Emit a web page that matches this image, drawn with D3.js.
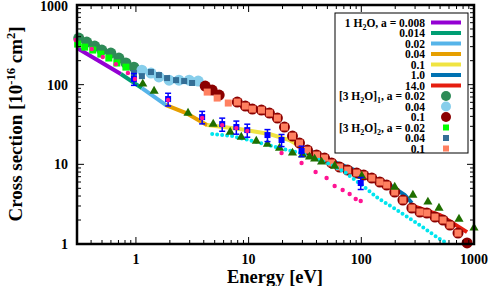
<!DOCTYPE html>
<html>
<head>
<meta charset="utf-8">
<script src="https://cdn.jsdelivr.net/npm/d3@7"></script>
<style>
  body { margin: 0; background: #fff; }
  text { font-family: "Liberation Serif", "DejaVu Serif", serif; font-weight: bold; }
</style>
</head>
<body>
<div id="chart"></div>
<script>
// ---- data (energy in eV, cross section in 1e-16 cm^2) ----
const h2o008E = [0.3, 0.47, 0.735], h2o008S = [288, 198, 136];
const h2o014E = [0.735, 1.13], h2o014S = [136, 90.6];
const h2o02E = [1.13, 1.85], h2o02S = [90.6, 55.5];
const h2o04E = [1.85, 2.79, 4.3], h2o04S = [55.5, 44, 31];
const h2o1E = [4.3, 8.26, 15.3, 23.0, 28.3], h2o1S = [31.1, 27.7, 24.0, 20.2, 17.0];
const h2o10E = [28.3, 52.3, 96.8, 179, 243, 281], h2o10S = [17.0, 11.3, 8.0, 5.5, 4.12, 3.27];
const h2o140E = [270, 499, 868], h2o140S = [3.09, 2.31, 1.41];

const c1a02E = [0.311, 0.366, 0.431, 0.498, 0.599, 0.706, 0.815, 0.96];
const c1a02S = [384, 342, 305, 272, 249, 216, 187, 166];
const c1a04E = [1.13, 1.36, 1.60, 1.97, 2.41, 2.97, 3.57];
const c1a04S = [152, 140, 125, 114, 114, 114, 111];
const c1a1E = [4.12, 4.75, 5.48, 7.93, 9.35, 10.8, 13.0, 15.3, 18.0, 20.8, 24.5, 28.3, 33.3, 40.1, 47.2, 54.5, 64.2, 75.7, 91.0, 105, 124, 146, 168, 198, 234, 281, 331, 382, 451, 531, 612, 721, 868];
const c1a1S = [96, 85.5, 74.1, 60.5, 53.9, 49.4, 48.0, 44.0, 38.1, 29.4, 22.6, 18.5, 15.1, 13.1, 12.0, 10.4, 9.25, 8.48, 7.78, 7.34, 6.73, 6.00, 5.50, 4.49, 3.56, 2.83, 2.52, 2.45, 2.18, 2.00, 1.73, 1.37, 1.03];

const c2a02E = [0.304, 0.351, 0.414, 0.488, 0.575, 0.677, 0.815];
const c2a02S = [323, 296, 272, 242, 216, 187, 166];
const c2a04E = [0.96, 1.13, 1.36, 1.60, 1.89, 2.27, 2.68, 3.15];
const c2a04S = [140, 128, 144, 132, 121, 114, 111, 105];
const c2a1E = [4.29, 5.26, 6.60, 7.93, 9.35, 10.8, 13.0, 15.3, 18.0, 20.8, 24.5, 28.3, 33.3, 40.1, 47.2, 54.5, 64.2, 75.7, 91.0, 105, 124, 146, 168, 198, 234, 281, 331, 382, 451, 531, 612, 721];
const c2a1S = [80.7, 67.9, 58.8, 60.5, 53.9, 49.4, 48.0, 44.0, 38.1, 29.4, 22.6, 18.5, 15.1, 13.1, 12.0, 10.4, 9.25, 8.48, 7.78, 7.34, 6.73, 6.00, 5.50, 4.49, 3.56, 2.83, 2.52, 2.45, 2.18, 2.00, 1.73, 1.37];

const triE = [1.15, 1.45, 2.90, 4.85, 6.87, 8.61, 11.7, 14.7, 18.8, 24.5, 30.1, 34.7, 38.5, 44.4, 58.0, 101, 198, 287, 390, 489, 736, 1000];
const triS = [102, 83.1, 44.0, 32.0, 25.4, 22.0, 19.6, 18.0, 16.0, 13.9, 13.1, 12.4, 11.7, 10.7, 9.52, 7.13, 5.19, 4.12, 3.37, 2.83, 2.06, 1.59];

const expE = [0.96, 1.93, 3.87, 5.83, 7.78, 9.73, 14.7, 19.6, 29.5, 98.8];
const expS = [118, 66, 39.2, 32.0, 29.4, 26.9, 23.3, 20.2, 14.7, 5.83];
const expErr = [20, 12, 7, 6, 5.5, 5, 4, 3.5, 2.2, 1];

const pinkE = [0.292, 0.406, 0.508, 0.664, 0.849, 0.98, 1.93, 3.87, 5.83, 7.78, 9.73, 19.6, 29.5, 39.3, 49.2, 58.0, 68.3, 78.8, 89.2, 98.8];
const pinkS = [363, 280, 222, 181, 140, 118, 64.1, 38.1, 31.1, 28.5, 26.2, 13.9, 10.4, 8.0, 6.73, 5.34, 4.76, 4.24, 3.67, 3.46];

const cyanE = [4.75, 7.16, 12.0, 18.8, 28.3, 40.1, 54.5, 71.2, 101, 140, 207, 311, 469, 588];
const cyanS = [24.0, 22.6, 19.0, 16.0, 13.9, 11.7, 9.80, 8.0, 5.50, 3.78, 2.67, 1.83, 1.22, 1.0];

const xTicks = [1, 10, 100, 1000];
const yTicks = [1, 10, 100, 1000];

// ---- layout ----
const width = 491, height = 286;
const marginTop = 5, marginRight = 17, marginBottom = 42, marginLeft = 77;

const x = d3.scaleLog([0.3, 1000], [marginLeft, width - marginRight]);
const y = d3.scaleLog([1, 1000], [height - marginBottom, marginTop]);

const svg = d3.select("#chart").append("svg")
  .attr("width", width)
  .attr("height", height);

const pairs = (es, ss) => es.map((e, i) => [e, ss[i]]);

// lines
const lines = [
  {E: h2o008E, S: h2o008S, color: "#9400d3", label: "0.008"},
  {E: h2o014E, S: h2o014S, color: "#009e73", label: "0.014"},
  {E: h2o02E, S: h2o02S, color: "#56b4e9", label: "0.02"},
  {E: h2o04E, S: h2o04S, color: "#e69f00", label: "0.04"},
  {E: h2o1E, S: h2o1S, color: "#f0e442", label: "0.1"},
  {E: h2o10E, S: h2o10S, color: "#0072b2", label: "1.0"},
  {E: h2o140E, S: h2o140S, color: "#e51e10", label: "14.0"}
];
const line = d3.line().x(d => x(d[0])).y(d => y(d[1]));

const plot = svg.append("g");
plot.selectAll(".curve")
  .data(lines)
  .join("path")
  .attr("class", "curve")
  .attr("d", d => line(pairs(d.E, d.S)))
  .attr("fill", "none")
  .attr("stroke", d => d.color)
  .attr("stroke-width", 4);

// markers
function circles(es, ss, r, fill, stroke) {
  plot.append("g").selectAll("circle")
    .data(pairs(es, ss))
    .join("circle")
    .attr("cx", d => x(d[0]))
    .attr("cy", d => y(d[1]))
    .attr("r", r)
    .attr("fill", fill)
    .attr("stroke", stroke || "none")
    .attr("stroke-width", 1);
}
function squares(es, ss, s, fill) {
  plot.append("g").selectAll("rect")
    .data(pairs(es, ss))
    .join("rect")
    .attr("x", d => x(d[0]) - s / 2)
    .attr("y", d => y(d[1]) - s / 2)
    .attr("width", s)
    .attr("height", s)
    .attr("fill", fill);
}

circles(c1a02E, c1a02S, 5.5, "#2e8b57");
circles(c1a04E, c1a04S, 5.5, "#87ceeb");
circles(c1a1E, c1a1S, 5.5, "#8b0000");
squares(c2a02E, c2a02S, 7, "#00ff00");
squares(c2a04E, c2a04S, 6, "#336e96");
squares(c2a1E, c2a1S, 7, "#ff8060");

// cyan dotted curve
plot.append("path")
  .attr("d", line(pairs(cyanE, cyanS)))
  .attr("fill", "none")
  .attr("stroke", "#00e5ee")
  .attr("stroke-width", 4)
  .attr("stroke-linecap", "round")
  .attr("stroke-dasharray", "0 5");

// triangles
plot.append("g").selectAll("path")
  .data(pairs(triE, triS))
  .join("path")
  .attr("transform", d => `translate(${x(d[0])},${y(d[1])})`)
  .attr("d", d3.symbol(d3.symbolTriangle, 36))
  .attr("fill", "#1f6f00");

// experiment with error bars
const exp = plot.append("g").selectAll("g")
  .data(expE.map((e, i) => ({e, s: expS[i], err: expErr[i]})))
  .join("g")
  .attr("stroke", "#0000ff")
  .attr("stroke-width", 1.5);
exp.append("line")
  .attr("x1", d => x(d.e)).attr("x2", d => x(d.e))
  .attr("y1", d => y(d.s + d.err)).attr("y2", d => y(d.s - d.err));
exp.append("line")
  .attr("x1", d => x(d.e) - 3).attr("x2", d => x(d.e) + 3)
  .attr("y1", d => y(d.s + d.err)).attr("y2", d => y(d.s + d.err));
exp.append("line")
  .attr("x1", d => x(d.e) - 3).attr("x2", d => x(d.e) + 3)
  .attr("y1", d => y(d.s - d.err)).attr("y2", d => y(d.s - d.err));
exp.append("rect")
  .attr("x", d => x(d.e) - 3).attr("y", d => y(d.s) - 3)
  .attr("width", 6).attr("height", 6)
  .attr("fill", "#0000ff").attr("stroke", "none");

circles(pinkE, pinkS, 2.2, "#ff1493");

// ---- axes ----
const minorX = x.ticks();
const minorY = y.ticks();

function tickMarks(g, vals, scale, orient) {
  g.selectAll("line")
    .data(vals)
    .join("line")
    .attr("stroke", "#000")
    .attr("stroke-width", 1)
    .each(function (d) {
      const major = xTicks.includes(d);
      const len = major ? 7 : 4;
      const p = scale(d);
      const el = d3.select(this);
      if (orient === "bottom") el.attr("x1", p).attr("x2", p).attr("y1", height - marginBottom).attr("y2", height - marginBottom - len);
      if (orient === "top") el.attr("x1", p).attr("x2", p).attr("y1", marginTop).attr("y2", marginTop + len);
      if (orient === "left") el.attr("y1", p).attr("y2", p).attr("x1", marginLeft).attr("x2", marginLeft + len);
      if (orient === "right") el.attr("y1", p).attr("y2", p).attr("x1", width - marginRight).attr("x2", width - marginRight - len);
    });
}
tickMarks(svg.append("g"), minorX, x, "bottom");
tickMarks(svg.append("g"), minorX, x, "top");
tickMarks(svg.append("g"), minorY, y, "left");
tickMarks(svg.append("g"), minorY, y, "right");

svg.append("rect")
  .attr("x", marginLeft).attr("y", marginTop)
  .attr("width", width - marginLeft - marginRight)
  .attr("height", height - marginTop - marginBottom)
  .attr("fill", "none")
  .attr("stroke", "#000")
  .attr("stroke-width", 2.5);

svg.append("g").selectAll("text")
  .data(xTicks)
  .join("text")
  .attr("x", d => x(d))
  .attr("y", height - marginBottom + 20)
  .attr("text-anchor", "middle")
  .attr("font-size", 14)
  .text(d => d);

svg.append("g").selectAll("text")
  .data(yTicks)
  .join("text")
  .attr("x", marginLeft - 9)
  .attr("y", d => Math.max(y(d) + 5, 11))
  .attr("text-anchor", "end")
  .attr("font-size", 14)
  .text(d => d);

svg.append("text")
  .attr("x", 275)
  .attr("y", 283)
  .attr("text-anchor", "middle")
  .attr("font-size", 18.5)
  .text("Energy [eV]");

const yl = svg.append("text")
  .attr("transform", "translate(22,124) rotate(-90)")
  .attr("text-anchor", "middle")
  .attr("font-size", 19);
yl.append("tspan").text("Cross section [10");
yl.append("tspan").attr("dy", -7).attr("font-size", 12.5).text("-16");
yl.append("tspan").attr("dy", 7).text(" cm");
yl.append("tspan").attr("dy", -7).attr("font-size", 12.5).text("2");
yl.append("tspan").attr("dy", 7).text("]");

// ---- legend ----
const legend = svg.append("g");
legend.append("rect")
  .attr("x", 335).attr("y", 13)
  .attr("width", 133).attr("height", 140)
  .attr("fill", "#fff")
  .attr("stroke", "#000")
  .attr("stroke-width", 1);

const rowY = i => 22.5 + i * 10.5;
const textX = 425;

function legendLabel(i, parts) {
  const t = legend.append("text")
    .attr("x", textX)
    .attr("y", rowY(i) + 4)
    .attr("text-anchor", "end")
    .attr("font-size", 11.5);
  let shift = 0;
  parts.forEach(p => {
    if (typeof p === "object") {
      t.append("tspan").attr("dy", 3 - shift).attr("font-size", 8).text(p.s);
      shift = 3;
    } else {
      t.append("tspan").attr("dy", -shift).text(p);
      shift = 0;
    }
  });
}

lines.forEach((d, i) => {
  legend.append("line")
    .attr("x1", 431).attr("x2", 461)
    .attr("y1", rowY(i)).attr("y2", rowY(i))
    .attr("stroke", d.color)
    .attr("stroke-width", 4);
  if (i === 0) legendLabel(i, ["1 H", {s: "2"}, "O, a = " + d.label]);
  else legendLabel(i, [d.label]);
});

const markerRows = [
  {label: ["[3 H", {s: "2"}, "O]", {s: "1"}, ", a = 0.02"], type: "circle", fill: "#2e8b57"},
  {label: ["0.04"], type: "circle", fill: "#87ceeb"},
  {label: ["0.1"], type: "circle", fill: "#8b0000"},
  {label: ["[3 H", {s: "2"}, "O]", {s: "2"}, ", a = 0.02"], type: "square", fill: "#00ff00"},
  {label: ["0.04"], type: "square", fill: "#336e96"},
  {label: ["0.1"], type: "square", fill: "#ff8060"}
];
markerRows.forEach((d, j) => {
  const i = j + lines.length;
  if (d.type === "circle") {
    legend.append("circle").attr("cx", 446).attr("cy", rowY(i)).attr("r", 5).attr("fill", d.fill);
  } else {
    legend.append("rect").attr("x", 443).attr("y", rowY(i) - 3).attr("width", 6).attr("height", 6).attr("fill", d.fill);
  }
  legendLabel(i, d.label);
});
</script>
</body>
</html>
